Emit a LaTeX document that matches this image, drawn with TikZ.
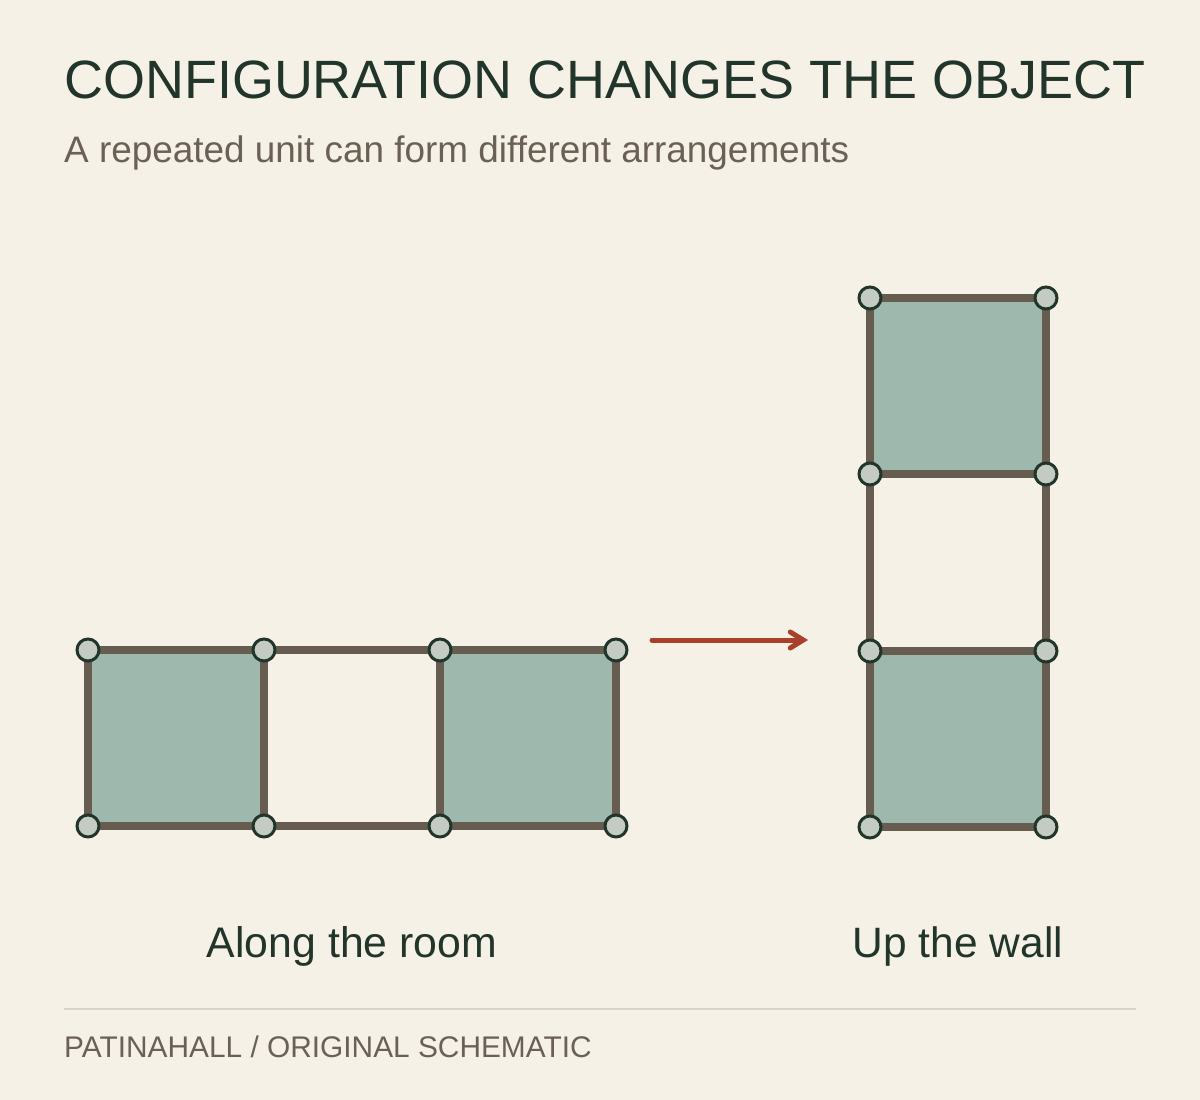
\documentclass[tikz,border=0pt]{standalone}
\usepackage{fontspec}
\setmainfont{Liberation Sans}
\usetikzlibrary{arrows.meta,backgrounds}

\definecolor{paper}{HTML}{F6F1E7}
\definecolor{ink}{HTML}{22352B}
\definecolor{mute}{HTML}{6B6055}
\definecolor{frame}{HTML}{675C50}
\definecolor{tile}{HTML}{9FB8AE}
\definecolor{knob}{HTML}{C3CBC3}
\definecolor{rust}{HTML}{A8402A}
\definecolor{rule}{HTML}{DAD4C8}

\begin{document}
\begin{tikzpicture}[x=1pt,y=-1pt,
	joint/.style={draw=ink, fill=knob, circle, line width=3pt, minimum size=22pt, inner sep=0pt},
	bar/.style={draw=frame, line width=8pt},
	txt/.style={inner sep=0pt, text=ink}]
	\useasboundingbox (0,0) rectangle (1200,1100);

	\node[txt, anchor=base west, font=\fontsize{53.95}{60}\selectfont] (title) at (64,98)
	{CONFIGURATION CHANGES THE OBJECT};
	\node[txt, anchor=base west, text=mute, font=\fontsize{36.9}{42}\selectfont] (sub) at (64,162)
	{A repeated unit can form different arrangements};

	% along the room
	\node[joint] (LT1) at (88,650) {};
	\node[joint] (LT2) at (264,650) {};
	\node[joint] (LT3) at (440,650) {};
	\node[joint] (LT4) at (616,650) {};
	\node[joint] (LB1) at (88,826) {};
	\node[joint] (LB2) at (264,826) {};
	\node[joint] (LB3) at (440,826) {};
	\node[joint] (LB4) at (616,826) {};

	% up the wall
	\node[joint] (RL1) at (870,827) {};
	\node[joint] (RL2) at (870,651) {};
	\node[joint] (RL3) at (870,474) {};
	\node[joint] (RL4) at (870,298) {};
	\node[joint] (RR1) at (1046,827) {};
	\node[joint] (RR2) at (1046,651) {};
	\node[joint] (RR3) at (1046,474) {};
	\node[joint] (RR4) at (1046,298) {};

	\begin{scope}[on background layer]
		\fill[paper] (0,0) rectangle (1200,1100);
		\fill[tile] (LT1.center) rectangle (LB2.center);
		\fill[tile] (LT3.center) rectangle (LB4.center);
		\fill[tile] (RL1.center) rectangle (RR2.center);
		\fill[tile] (RL3.center) rectangle (RR4.center);
		\draw[bar] (LT1.center) -- (LT4.center) -- (LB4.center) -- (LB1.center) -- cycle;
		\draw[bar] (LT2.center) -- (LB2.center);
		\draw[bar] (LT3.center) -- (LB3.center);
		\draw[bar] (RL1.center) -- (RL4.center) -- (RR4.center) -- (RR1.center) -- cycle;
		\draw[bar] (RL2.center) -- (RR2.center);
		\draw[bar] (RL3.center) -- (RR3.center);
	\end{scope}

	\coordinate (from) at (652,640);
	\coordinate (to) at (808,640);
	\draw[rust, line width=5pt, line cap=round, -{Straight Barb[length=13pt,width=16pt,line cap=round]}] (from) -- (to);

	\node[txt, anchor=base, font=\fontsize{42.8}{48}\selectfont] (along) at (352,957) {Along the room};
	\node[txt, anchor=base, font=\fontsize{42.5}{48}\selectfont] (up) at (958,957) {Up the wall};

	\coordinate (ruleL) at (64,1009);
	\coordinate (ruleR) at (1136,1009);
	\draw[rule, line width=2pt] (ruleL) -- (ruleR);
	\node[txt, anchor=base west, text=mute, font=\fontsize{29.85}{34}\selectfont] (foot) at (64,1057)
	{PATINAHALL / ORIGINAL SCHEMATIC};
\end{tikzpicture}
\end{document}
